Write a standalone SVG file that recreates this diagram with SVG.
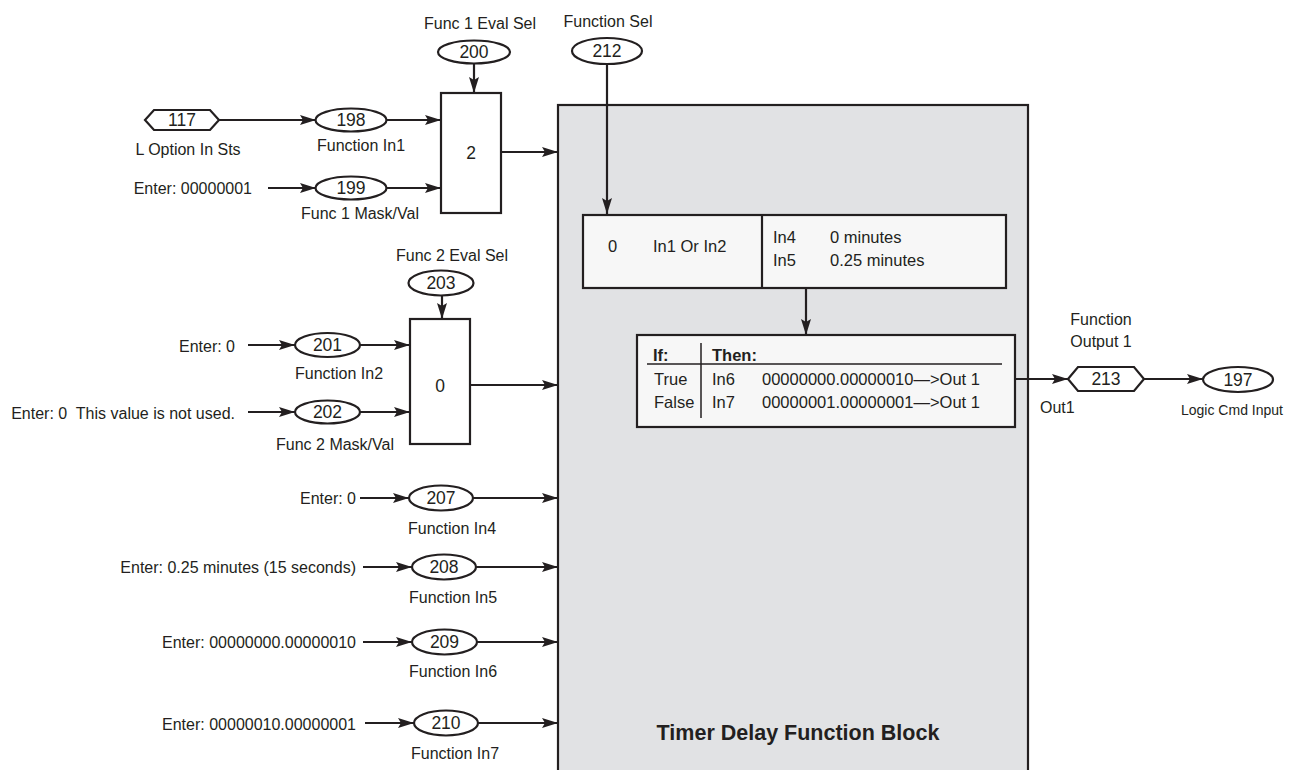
<svg xmlns="http://www.w3.org/2000/svg" width="1306" height="770" viewBox="0 0 1306 770">
<defs>
<marker id="arr" markerUnits="userSpaceOnUse" markerWidth="17" markerHeight="11" refX="16" refY="5.5" orient="auto">
<path d="M0,0.5 L16,5.5 L0,10.5 L3,5.5 Z" fill="#231f20"/>
</marker>
<style>
text{font-family:"Liberation Sans",Arial,sans-serif;fill:#231f20;font-size:16px}
.c{text-anchor:middle}
.e{text-anchor:end}
.n{font-size:17.5px;text-anchor:middle}
.b{font-weight:bold}
.t{font-size:16.5px}
.ell{fill:#fff;stroke:#231f20;stroke-width:2.2}
.box{fill:#fff;stroke:#231f20;stroke-width:2.2}
.ibox{fill:#f7f7f7;stroke:#231f20;stroke-width:2.2}
.ln{fill:none;stroke:#231f20;stroke-width:2.2}
.con{fill:none;stroke:#231f20;stroke-width:2.2;marker-end:url(#arr)}
</style>
</defs>
<rect width="1306" height="770" fill="#fff"/>

<g id="main-block">
<rect x="558" y="105" width="470" height="680" fill="#e1e2e4" stroke="#231f20" stroke-width="2.2"/>
<text x="798" y="740" class="c b" style="font-size:21.5px">Timer Delay Function Block</text>
</g>

<g id="connectors">
<path class="con" d="M219,120 L316,120"/>
<path class="con" d="M387,120 L441,120"/>
<path class="con" d="M268,188 L316,188"/>
<path class="con" d="M387,188 L441,188"/>
<path class="con" d="M474,64 L474,93"/>
<path class="con" d="M501,152 L558,152"/>
<path class="con" d="M248,345 L295,345"/>
<path class="con" d="M360,345 L410,345"/>
<path class="con" d="M248,412 L295,412"/>
<path class="con" d="M360,412 L410,412"/>
<path class="con" d="M442,296 L442,319"/>
<path class="con" d="M470,385 L558,385"/>
<path class="con" d="M360,498 L409,498"/>
<path class="con" d="M473,498 L558,498"/>
<path class="con" d="M363,567 L412,567"/>
<path class="con" d="M476,567 L558,567"/>
<path class="con" d="M363,642 L412,642"/>
<path class="con" d="M477,642 L558,642"/>
<path class="con" d="M365,723 L414,723"/>
<path class="con" d="M478,723 L558,723"/>
<path class="con" d="M607,65 L607,214"/>
<path class="con" d="M806,288 L806,335"/>
<path class="con" d="M1015,379 L1068,379"/>
<path class="con" d="M1144,379 L1203,379"/>
</g>

<g id="p117">
<polygon class="box" points="145,120 154,110 210,110 219,120 210,130 154,130"/>
<text x="182" y="126" class="n">117</text>
<text x="188" y="155" class="c">L Option In Sts</text>
</g>

<g id="p198">
<ellipse class="ell" cx="351" cy="120" rx="35.5" ry="11.5"/>
<text x="351" y="126" class="n">198</text>
<text x="361" y="151" class="c">Function In1</text>
</g>

<g id="p199">
<text x="252" y="194" class="e">Enter: 00000001</text>
<ellipse class="ell" cx="351" cy="188" rx="35.5" ry="11.5"/>
<text x="351" y="194" class="n">199</text>
<text x="360" y="219" class="c">Func 1 Mask/Val</text>
</g>

<g id="p200">
<text x="480" y="29" class="c">Func 1 Eval Sel</text>
<ellipse class="ell" cx="474" cy="52" rx="36" ry="11.5"/>
<text x="474" y="58" class="n">200</text>
</g>

<g id="sel1">
<rect class="box" x="441" y="93" width="60" height="120"/>
<text x="471" y="159" class="n">2</text>
</g>

<g id="p212">
<text x="608" y="27" class="c">Function Sel</text>
<ellipse class="ell" cx="607" cy="51" rx="35" ry="13"/>
<text x="607" y="57" class="n">212</text>
</g>

<g id="p201">
<text x="235" y="352" class="e">Enter: 0</text>
<ellipse class="ell" cx="327.5" cy="345" rx="32.5" ry="12"/>
<text x="327.5" y="351" class="n">201</text>
<text x="339" y="379" class="c">Function In2</text>
</g>

<g id="p202">
<text x="235" y="419" class="e">Enter: 0&#160; This value is not used.</text>
<ellipse class="ell" cx="327.5" cy="412" rx="32.5" ry="11.5"/>
<text x="327.5" y="418" class="n">202</text>
<text x="335" y="450" class="c">Func 2 Mask/Val</text>
</g>

<g id="p203">
<text x="452" y="261" class="c">Func 2 Eval Sel</text>
<ellipse class="ell" cx="441" cy="283" rx="32.5" ry="12.5"/>
<text x="441" y="289" class="n">203</text>
</g>

<g id="sel2">
<rect class="box" x="410" y="319" width="60" height="125"/>
<text x="440" y="392" class="n">0</text>
</g>

<g id="p207">
<text x="356" y="504" class="e">Enter: 0</text>
<ellipse class="ell" cx="441" cy="498" rx="32" ry="12.5"/>
<text x="441" y="504" class="n">207</text>
<text x="452" y="534" class="c">Function In4</text>
</g>

<g id="p208">
<text x="356" y="573" class="e">Enter: 0.25 minutes (15 seconds)</text>
<ellipse class="ell" cx="444" cy="567" rx="32" ry="12.5"/>
<text x="444" y="573" class="n">208</text>
<text x="453" y="603" class="c">Function In5</text>
</g>

<g id="p209">
<text x="356" y="648" class="e">Enter: 00000000.00000010</text>
<ellipse class="ell" cx="444.5" cy="642" rx="32.5" ry="12.5"/>
<text x="444.5" y="648" class="n">209</text>
<text x="453" y="677" class="c">Function In6</text>
</g>

<g id="p210">
<text x="356" y="730" class="e">Enter: 00000010.00000001</text>
<ellipse class="ell" cx="446" cy="723" rx="32" ry="12.5"/>
<text x="446" y="729" class="n">210</text>
<text x="455" y="759" class="c">Function In7</text>
</g>

<g id="func-select">
<rect class="ibox" x="583" y="215" width="423" height="73"/>
<line class="ln" x1="762" y1="215" x2="762" y2="288"/>
<text x="608" y="252" class="t">0</text>
<text x="653" y="252" class="t">In1 Or In2</text>
<text x="773" y="243" class="t">In4</text>
<text x="830" y="243" class="t">0 minutes</text>
<text x="773" y="266" class="t">In5</text>
<text x="830" y="266" class="t">0.25 minutes</text>
</g>

<g id="if-then">
<rect class="ibox" x="637" y="335" width="378" height="92"/>
<line class="ln" x1="647" y1="364" x2="1002" y2="364" style="stroke-width:1.5"/>
<line class="ln" x1="701" y1="343" x2="701" y2="418" style="stroke-width:1.5"/>
<text x="653" y="361" class="t b">If:</text>
<text x="712" y="361" class="t b">Then:</text>
<text x="654" y="385" class="t">True</text>
<text x="712" y="385" class="t">In6</text>
<text x="762" y="385" class="t">00000000.00000010—&gt;Out 1</text>
<text x="654" y="408" class="t">False</text>
<text x="712" y="408" class="t">In7</text>
<text x="762" y="408" class="t">00000001.00000001—&gt;Out 1</text>
</g>

<g id="p213">
<text x="1101" y="325" class="c">Function</text>
<text x="1101" y="347" class="c">Output 1</text>
<polygon class="box" points="1068,379 1078,367 1134,367 1144,379 1134,391 1078,391"/>
<text x="1106" y="385" class="n">213</text>
<text x="1040" y="413">Out1</text>
</g>

<g id="p197">
<ellipse class="ell" cx="1238" cy="379.5" rx="35" ry="12.5"/>
<text x="1238" y="386" class="n">197</text>
<text x="1232" y="415" class="c" style="font-size:14px">Logic Cmd Input</text>
</g>
</svg>
